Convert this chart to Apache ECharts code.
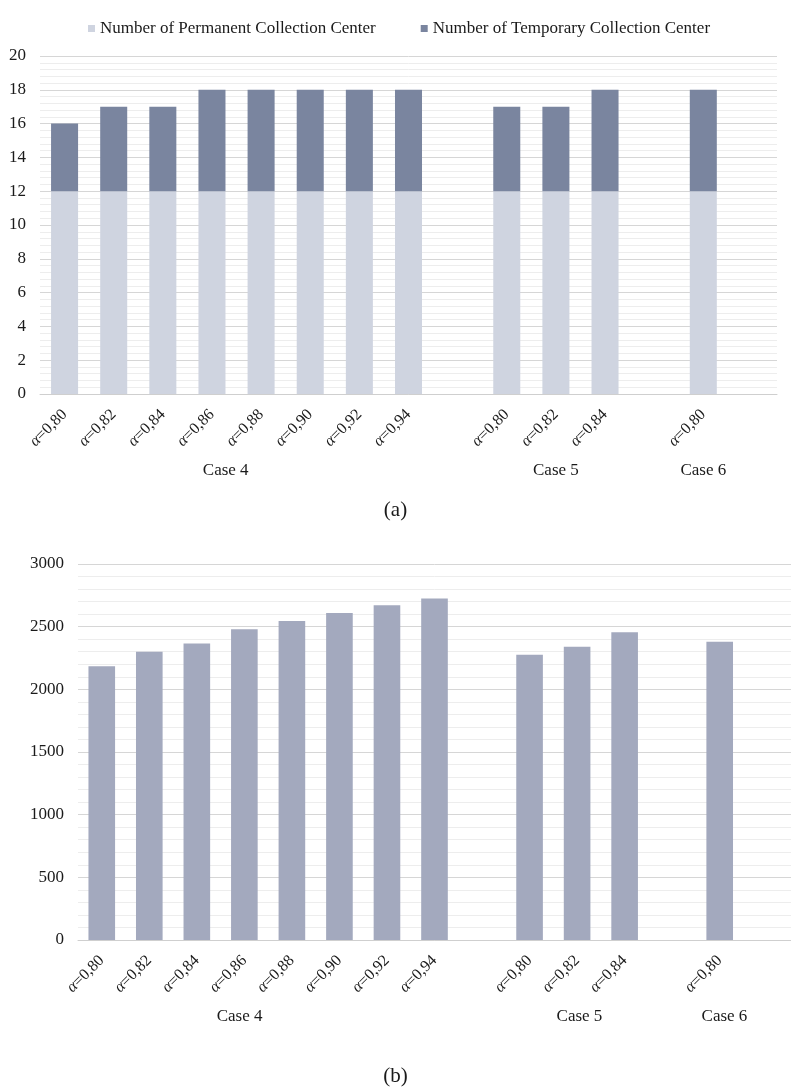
<!DOCTYPE html>
<html>
<head>
<meta charset="utf-8">
<script src="https://cdn.jsdelivr.net/npm/echarts@6/dist/echarts.min.js"></script>
<style>
html,body{margin:0;padding:0;background:#fff;}
#c{width:791px;height:1092px;}
</style>
</head>
<body>
<div id="c"></div>
<script>
// ---- data ----
const alphaLabels = ['0,80','0,82','0,84','0,86','0,88','0,90','0,92','0,94','','0,80','0,82','0,84','','0,80',''];
const permanentCenters = [12,12,12,12,12,12,12,12,null,12,12,12,null,12,null];
const temporaryCenters = [4,5,5,6,6,6,6,6,null,5,5,6,null,6,null];
const totalCost = [2185,2300,2365,2480,2545,2610,2670,2725,null,2275,2340,2455,null,2380,null];
const caseNames = ['Case 4','Case 5','Case 6'];
const seriesNames = ['Number of Permanent Collection Center','Number of Temporary Collection Center'];
const yTicksTop = [0,20,2];
const yTicksBottom = [0,3000,500];

// ---- layout ----
const casePosTop = [3.78,10.5,13.5];
const casePosBottom = [3.4,10.55,13.6];
const FONT = "'Liberation Serif','Times New Roman',serif";
const TXT = '#1a1a1a';

const chart = echarts.init(document.getElementById('c'));

function catAxis(gridIndex){
  return {
    type:'category', gridIndex, data: alphaLabels,
    axisLine:{show:true,lineStyle:{color:'#cfcfcf',width:1}},
    axisTick:{show:false},
    axisLabel:{
      interval:0, rotate:45, margin:18,
      formatter: v => v ? '{i|α}{n|=' + v + '}' : '',
      rich:{
        i:{fontFamily:FONT,fontStyle:'italic',fontSize:16,color:TXT},
        n:{fontFamily:FONT,fontSize:16,color:TXT}
      }
    }
  };
}
function caseAxis(gridIndex, pos){
  return {
    type:'value', gridIndex, min:0, max:alphaLabels.length, position:'bottom', offset:60,
    axisLine:{show:false}, axisTick:{show:false}, splitLine:{show:false},
    axisLabel:{
      customValues: pos, margin:8,
      formatter: v => { const k = pos.findIndex(p => Math.abs(p - v) < 1e-6); return k >= 0 ? caseNames[k] : ''; },
      fontFamily:FONT, fontSize:17, color:TXT
    }
  };
}
function valAxis(gridIndex, t){
  return {
    type:'value', gridIndex, min:t[0], max:t[1], interval:t[2],
    axisLine:{show:false}, axisTick:{show:false},
    axisLabel:{fontFamily:FONT, fontSize:17, color:TXT, margin:14, formatter: v => String(v)},
    splitLine:{show:true,lineStyle:{color:'#d6d6d6',width:1}},
    minorTick:{show:false, splitNumber:5},
    minorSplitLine:{show:true,lineStyle:{color:'#ededed',width:1}}
  };
}

chart.setOption({
  animation:false,
  backgroundColor:'#fff',
  title:[
    {text:'(a)', left:'center', top:495, textStyle:{fontFamily:FONT,fontSize:21,fontWeight:'normal',color:TXT}},
    {text:'(b)', left:'center', top:1061, textStyle:{fontFamily:FONT,fontSize:21,fontWeight:'normal',color:TXT}}
  ],
  legend:{
    data: seriesNames, left:83, top:15, icon:'rect', itemWidth:7, itemHeight:7, itemGap:45,
    textStyle:{fontFamily:FONT,fontSize:17,color:TXT}
  },
  grid:[
    {left:40, right:14, top:56, bottom:698},
    {left:78, right:-8, top:564, bottom:152}
  ],
  xAxis:[ catAxis(0), caseAxis(0, casePosTop), catAxis(1), caseAxis(1, casePosBottom) ],
  yAxis:[ valAxis(0, yTicksTop), valAxis(1, yTicksBottom) ],
  series:[
    {name:seriesNames[0], type:'bar', stack:'a', xAxisIndex:0, yAxisIndex:0, data:permanentCenters,
     barCategoryGap:'45%', itemStyle:{color:'#cfd4e0'}},
    {name:seriesNames[1], type:'bar', stack:'a', xAxisIndex:0, yAxisIndex:0, data:temporaryCenters,
     barCategoryGap:'45%', itemStyle:{color:'#7a859f'}},
    {name:'Cost', type:'bar', xAxisIndex:2, yAxisIndex:1, data:totalCost,
     barCategoryGap:'44%', itemStyle:{color:'#a3a9be'}}
  ]
});
</script>
</body>
</html>
